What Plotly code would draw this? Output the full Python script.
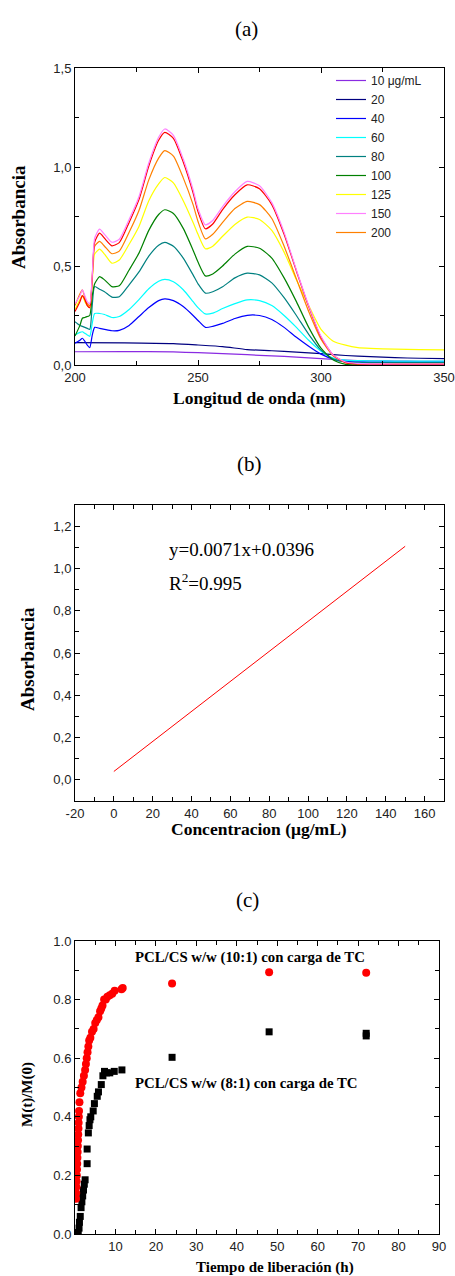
import plotly.graph_objects as go

# ---------------- Panel (a): UV-Vis spectra ----------------
WL = [200, 202, 203, 204, 205, 206, 207, 208, 210, 212, 215, 218, 222, 226, 230, 234,
      236.5, 240, 244, 248, 250, 253, 256, 260, 265, 270, 275, 280, 285, 290, 295, 300,
      305, 310, 315, 320, 330, 340, 350]

A_150 = [0.31, 0.35, 0.38, 0.35, 0.32, 0.31, 0.45, 0.64, 0.686, 0.66, 0.62, 0.635, 0.735, 0.85, 1.02, 1.15,
         1.192, 1.16, 1.04, 0.885, 0.79, 0.708, 0.73, 0.80, 0.875, 0.927, 0.905, 0.82, 0.67, 0.48, 0.30, 0.145,
         0.05, 0.015, 0.008, 0.006, 0.005, 0.005, 0.005]
A_red = [0.27, 0.32, 0.35, 0.33, 0.30, 0.29, 0.44, 0.62, 0.666, 0.64, 0.602, 0.618, 0.72, 0.835, 1.005, 1.135,
         1.175, 1.145, 1.025, 0.87, 0.775, 0.688, 0.712, 0.785, 0.86, 0.91, 0.89, 0.81, 0.66, 0.475, 0.295, 0.14,
         0.05, 0.012, 0.005, 0.004, 0.003, 0.003, 0.003]
A_200 = [0.30, 0.36, 0.38, 0.34, 0.31, 0.30, 0.44, 0.60, 0.624, 0.60, 0.562, 0.575, 0.67, 0.78, 0.935, 1.045,
         1.083, 1.055, 0.945, 0.81, 0.725, 0.637, 0.66, 0.72, 0.79, 0.826, 0.81, 0.74, 0.60, 0.435, 0.27, 0.13,
         0.045, 0.012, 0.006, 0.005, 0.004, 0.004, 0.004]
A_125 = [0.28, 0.33, 0.35, 0.32, 0.30, 0.29, 0.42, 0.56, 0.585, 0.56, 0.514, 0.53, 0.61, 0.70, 0.83, 0.915,
         0.947, 0.92, 0.83, 0.72, 0.66, 0.587, 0.60, 0.65, 0.71, 0.747, 0.735, 0.68, 0.57, 0.43, 0.30, 0.18,
         0.12, 0.10, 0.088, 0.084, 0.08, 0.078, 0.076]
A_100 = [0.146, 0.20, 0.236, 0.24, 0.245, 0.25, 0.35, 0.41, 0.446, 0.43, 0.396, 0.40, 0.48, 0.565, 0.68, 0.76,
         0.784, 0.765, 0.69, 0.58, 0.52, 0.45, 0.46, 0.50, 0.56, 0.599, 0.59, 0.54, 0.44, 0.32, 0.19, 0.085,
         0.025, 0.003, 0.0, 0.0, 0.0, 0.0, 0.0]
A_80 = [0.219, 0.20, 0.195, 0.19, 0.185, 0.18, 0.30, 0.396, 0.383, 0.37, 0.343, 0.345, 0.405, 0.47, 0.55, 0.605,
        0.619, 0.60, 0.54, 0.455, 0.41, 0.363, 0.37, 0.395, 0.44, 0.464, 0.455, 0.415, 0.34, 0.25, 0.155, 0.075,
        0.03, 0.015, 0.013, 0.012, 0.012, 0.012, 0.012]
A_60 = [0.152, 0.165, 0.168, 0.16, 0.152, 0.145, 0.21, 0.26, 0.26, 0.255, 0.24, 0.245, 0.28, 0.33, 0.385, 0.423,
        0.432, 0.42, 0.38, 0.32, 0.29, 0.258, 0.262, 0.285, 0.31, 0.329, 0.325, 0.30, 0.25, 0.19, 0.125, 0.07,
        0.035, 0.025, 0.022, 0.021, 0.02, 0.02, 0.02]
A_40 = [0.11, 0.125, 0.135, 0.12, 0.10, 0.088, 0.15, 0.19, 0.185, 0.18, 0.173, 0.175, 0.20, 0.245, 0.29, 0.325,
        0.334, 0.325, 0.295, 0.25, 0.225, 0.19, 0.195, 0.21, 0.235, 0.251, 0.25, 0.23, 0.19, 0.14, 0.095, 0.055,
        0.03, 0.018, 0.016, 0.015, 0.015, 0.015, 0.015]

WL_FLAT = [200, 220, 240, 250, 260, 270, 280, 290, 300, 310, 320, 330, 340, 350]
A_20 = [0.113, 0.112, 0.108, 0.101, 0.093, 0.078, 0.072, 0.065, 0.057, 0.048, 0.042, 0.037, 0.034, 0.032]
A_10 = [0.067, 0.068, 0.066, 0.062, 0.057, 0.052, 0.046, 0.040, 0.032, 0.025, 0.021, 0.020, 0.019, 0.018]

# ---------------- Panel (b): calibration ----------------
CONC = [0, 150]
SLOPE = 0.0071
INTERCEPT = 0.0396

# ---------------- Panel (c): release profiles ----------------
T_10_1 = [0.25, 0.3, 0.35, 0.4, 0.45, 0.5, 0.55, 0.6, 0.65, 0.7, 0.75, 0.8, 0.85, 0.9, 0.95, 1.0, 1.1, 1.3,
          1.6, 1.9, 2.2, 2.5, 2.7, 2.9, 3.1, 3.3, 3.5, 3.8, 4.2, 4.6, 5.0, 5.4, 5.8, 6.2, 6.5, 6.8, 7.2, 7.6,
          8.0, 8.6, 9.2, 9.8, 11.5, 11.8, 24, 48, 72]
M_10_1 = [0.12, 0.14, 0.16, 0.18, 0.20, 0.22, 0.24, 0.26, 0.28, 0.30, 0.32, 0.34, 0.36, 0.38, 0.40, 0.42, 0.45, 0.48,
          0.50, 0.52, 0.54, 0.56, 0.58, 0.60, 0.62, 0.64, 0.66, 0.67, 0.69, 0.70, 0.72, 0.73, 0.74, 0.76, 0.77, 0.78, 0.80, 0.80,
          0.81, 0.815, 0.82, 0.83, 0.835, 0.84, 0.855, 0.893, 0.892]
T_8_1 = [0.8, 1.0, 1.1, 1.3, 1.5, 1.7, 1.9, 2.1, 2.3, 2.5, 3.0, 3.0, 3.3, 3.5, 3.7, 3.9, 4.5, 4.8, 5.5, 5.8,
         6.5, 6.9, 7.3, 7.8, 8.6, 9.7, 11.6, 24, 48, 72, 72]
M_8_1 = [0.005, 0.02, 0.04, 0.06, 0.09, 0.11, 0.13, 0.15, 0.17, 0.185, 0.24, 0.29, 0.345, 0.37, 0.39, 0.40, 0.42, 0.445,
         0.47, 0.485, 0.51, 0.54, 0.555, 0.55, 0.55, 0.555, 0.56, 0.603, 0.69, 0.685, 0.676]

SERIF = "Liberation Serif, Times New Roman, serif"
SANS = "Liberation Sans, Arial, sans-serif"
FW, FH = 455, 1276


def xd(l, r):
    return [l / FW, r / FW]


def yd(t, b):
    return [1 - b / FH, 1 - t / FH]


def px(x):
    return x / FW


def py(y):
    return 1 - y / FH


fig = go.Figure()

spectra = [
    ("10 μg/mL", WL_FLAT, A_10, "#8a2be2", True),
    ("20", WL_FLAT, A_20, "#000080", True),
    ("40", WL, A_40, "#0000ff", True),
    ("60", WL, A_60, "#00ffff", True),
    ("80", WL, A_80, "#008080", True),
    ("100", WL, A_100, "#008000", True),
    ("125", WL, A_125, "#ffff00", True),
    ("150", WL, A_150, "#ff80ff", True),
    ("200", WL, A_200, "#ff8000", True),
    ("red", WL, A_red, "#ff0000", False),
]
order = [0, 1, 2, 3, 4, 5, 6, 8, 9, 7]
for i in order:
    name, xs, ys, col, sl = spectra[i]
    fig.add_trace(go.Scatter(x=xs, y=ys, mode="lines", name=name, showlegend=sl,
                             line=dict(color=col, width=1.2, shape="spline", smoothing=0.6),
                             xaxis="x", yaxis="y", legendrank=i + 1))

fig.add_trace(go.Scatter(x=CONC, y=[SLOPE * c + INTERCEPT for c in CONC], mode="lines",
                         line=dict(color="#ff0000", width=1), showlegend=False,
                         xaxis="x2", yaxis="y2"))

fig.add_trace(go.Scatter(x=T_8_1, y=M_8_1, mode="markers", showlegend=False,
                         marker=dict(symbol="square", size=7, color="black"),
                         xaxis="x3", yaxis="y3"))
fig.add_trace(go.Scatter(x=T_10_1, y=M_10_1, mode="markers", showlegend=False,
                         marker=dict(symbol="circle", size=8, color="#ff0000"),
                         xaxis="x3", yaxis="y3"))


def axis(dom, rng, anchor, major, labels, minor_dtick):
    return dict(domain=dom, range=rng, anchor=anchor, automargin=False,
                showline=True, linecolor="black", linewidth=1, mirror="ticks",
                ticks="inside", ticklen=5, tickcolor="black", showgrid=False,
                zeroline=False, tickfont=dict(family=SANS, size=13, color="#222"),
                tickmode="array", tickvals=major, ticktext=labels,
                minor=dict(ticks="inside", ticklen=4, tickcolor="black", dtick=minor_dtick,
                           showgrid=False))


a_x = [200, 250, 300, 350]
a_y = [0, 0.5, 1.0, 1.5]
b_x = list(range(-20, 161, 20))
b_y = [0, 0.2, 0.4, 0.6, 0.8, 1.0, 1.2]
c_x = list(range(10, 91, 10))
c_y = [0, 0.2, 0.4, 0.6, 0.8, 1.0]


def comma(v):
    return ("%.1f" % v).replace(".", ",")


fig.update_layout(
    width=FW, height=FH, autosize=False,
    margin=dict(l=0, r=0, t=0, b=0, pad=0, autoexpand=False),
    paper_bgcolor="white", plot_bgcolor="white",
    xaxis=axis(xd(75, 444), [200, 350], "y", a_x, [str(v) for v in a_x], 25),
    yaxis=axis(yd(68, 365), [0, 1.5], "x", a_y, [comma(v) for v in a_y], 0.25),
    xaxis2=axis(xd(75, 444), [-20, 170], "y2", b_x, [str(v) for v in b_x], 10),
    yaxis2=axis(yd(505, 801), [-0.1, 1.3], "x2", b_y, [comma(v) for v in b_y], 0.1),
    xaxis3=axis(xd(75, 439), [0, 90], "y3", c_x, [str(v) for v in c_x], 5),
    yaxis3=axis(yd(941, 1234), [0, 1.0], "x3", c_y, ["%.1f" % v for v in c_y], 0.1),
    legend=dict(x=px(331), y=py(66), xanchor="left", yanchor="top",
                bgcolor="rgba(0,0,0,0)", borderwidth=0,
                font=dict(family=SANS, size=12, color="#222"),
                tracegroupgap=0, itemwidth=30),
)

ann = []


def text(x, y, s, size, bold=False, family=SERIF, xanchor="center", angle=0):
    ann.append(dict(x=px(x), y=py(y), xref="paper", yref="paper", text=("<b>%s</b>" % s) if bold else s,
                    showarrow=False, xanchor=xanchor, yanchor="middle", textangle=angle,
                    font=dict(family=family, size=size, color="black")))


text(247, 29, "(a)", 21)
text(249, 464, "(b)", 21)
text(248, 900, "(c)", 21)
text(259, 398, "Longitud de onda (nm)", 17.5, bold=True)
text(19, 217, "Absorbancia", 19, bold=True, angle=-90)
text(259, 829, "Concentracion (μg/mL)", 17.5, bold=True)
text(28, 659, "Absorbancia", 19, bold=True, angle=-90)
text(167, 549, "y=0.0071x+0.0396", 19, xanchor="left")
text(167, 582, "R<sup>2</sup>=0.995", 19, xanchor="left")
text(275, 1267, "Tiempo de liberación (h)", 15, bold=True)
text(27, 1095, "M(t)/M(0)", 15, bold=True, angle=-90)
text(133, 957, "PCL/CS w/w (10:1) con carga de TC", 14.8, bold=True, xanchor="left")
text(133, 1083, "PCL/CS w/w (8:1) con carga de TC", 14.8, bold=True, xanchor="left")

fig.update_layout(annotations=ann)
fig.write_html("out.html", config={"displayModeBar": False},
               post_script="document.body.style.margin='0';document.body.style.overflow='hidden';")
